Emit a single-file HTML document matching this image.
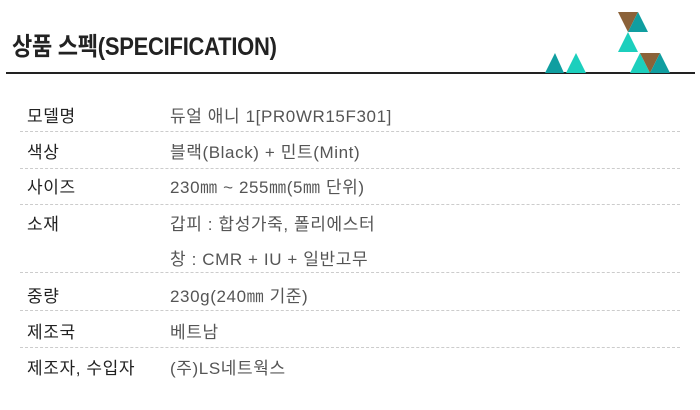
<!DOCTYPE html>
<html><head><meta charset="utf-8"><style>
body{margin:0;width:700px;height:410px;background:#fff;position:relative;overflow:hidden;font-family:"Liberation Sans","Noto Sans CJK KR",sans-serif}
.t{position:absolute;left:12px;top:27px;font-size:25px;font-weight:bold;color:#222;transform:scaleX(0.88);transform-origin:0 0;white-space:nowrap;letter-spacing:-0.3px}
.hr{position:absolute;left:6px;top:72px;width:689px;height:2px;background:#222}
.l,.v{position:absolute;font-size:17px;line-height:20px;white-space:nowrap;letter-spacing:0.6px}
.l{left:27px;color:#222}
.v{left:170px;color:#555}
.d{position:absolute;left:20px;width:660px;border-top:1px dashed #ccc;height:0}
</style></head><body>
<div class="t">상품 스펙(SPECIFICATION)</div>
<div class="hr"></div>
<svg style="position:absolute;left:0;top:0" width="700" height="80">
<polygon points="545,73 564,73 555,53" fill="#109ea0"/>
<polygon points="566,73 586,73 576,53" fill="#1ccfbd"/>
<polygon points="618,12 638,12 628,32" fill="#8b6239"/>
<polygon points="628,32 648,32 638,12" fill="#109ea0"/>
<polygon points="618,52 638,52 628,32" fill="#1ccfbd"/>
<polygon points="630,73 650,73 640,53" fill="#1ccfbd"/>
<polygon points="640,53 660,53 650,73" fill="#8b6239"/>
<polygon points="650,73 670,73 660,53" fill="#109ea0"/>
</svg>
<div class="l" style="top:107px">모델명</div><div class="v" style="top:107px">듀얼 애니 1[PR0WR15F301]</div>
<div class="d" style="top:131px"></div>
<div class="l" style="top:143px">색상</div><div class="v" style="top:143px">블랙(Black) + 민트(Mint)</div>
<div class="d" style="top:168px"></div>
<div class="l" style="top:178px">사이즈</div><div class="v" style="top:178px">230㎜ ~ 255㎜(5㎜ 단위)</div>
<div class="d" style="top:204px"></div>
<div class="l" style="top:215px">소재</div><div class="v" style="top:215px">갑피 : 합성가죽, 폴리에스터</div>
<div class="v" style="top:250px">창 : CMR + IU + 일반고무</div>
<div class="d" style="top:272px"></div>
<div class="l" style="top:287px">중량</div><div class="v" style="top:287px">230g(240㎜ 기준)</div>
<div class="d" style="top:310px"></div>
<div class="l" style="top:323px">제조국</div><div class="v" style="top:323px">베트남</div>
<div class="d" style="top:347px"></div>
<div class="l" style="top:359px">제조자, 수입자</div><div class="v" style="top:359px">(주)LS네트웍스</div>
</body></html>
